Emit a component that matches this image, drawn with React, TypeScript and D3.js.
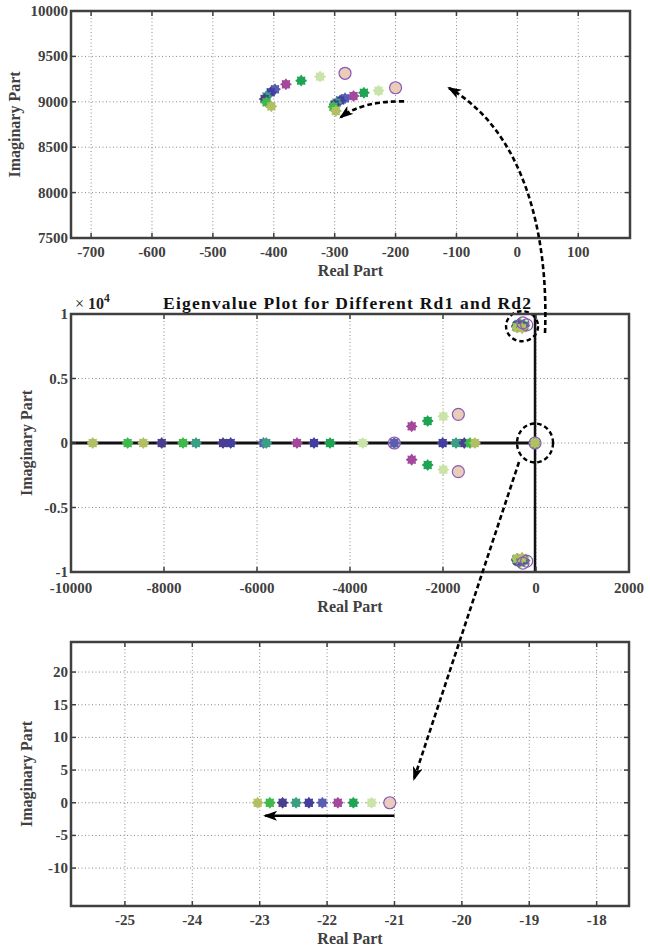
import React from 'react'
import * as d3 from 'd3'

// marker colours, one per Rd case (first case is drawn as a circle)
const caseColors = ['#e9cdb9', '#c9e3a9', '#1fa453', '#a4489d', '#5a5eb2', '#423f9e', '#3a9f84', '#4a3e8e', '#3dba4b', '#b2bf63']
const circleStroke = '#8a58b8'

// upper eigenvalue pair near 9000 rad/s (two branches)
const branchARe = [-283, -324, -355, -380, -398, -405, -412, -415, -412, -404]
const branchAIm = [9314, 9277, 9233, 9193, 9138, 9105, 9060, 9030, 8995, 8950]
const branchBRe = [-200, -228, -252, -269, -283, -291, -297, -300, -302, -298]
const branchBIm = [9155, 9122, 9100, 9064, 9039, 9015, 8990, 8970, 8945, 8899]

// real eigenvalues on the negative real axis
const realRe = [-9533, -8781, -8445, -8049, -7591, -7312, -6731, -6566, -5860, -5800, -5140, -4774, -4430, -3727, -3047, -3047, -2007, -1720, -1542, -1419, -1312]
const realCase = [9, 8, 9, 7, 8, 6, 7, 5, 4, 6, 3, 5, 2, 1, 0, 4, 5, 6, 7, 8, 9]

// complex pairs leaving the real axis
const pairRe = [-1670, -1993, -2329, -2673]
const pairIm = [2222, 2067, 1705, 1292]

// slow eigenvalue near the origin
const slowRe = [-21.07, -21.34, -21.61, -21.84, -22.07, -22.27, -22.46, -22.66, -22.85, -23.03]

const topXTicks = [-700, -600, -500, -400, -300, -200, -100, 0, 100]
const topYTicks = [7500, 8000, 8500, 9000, 9500, 10000]
const midXTicks = [-10000, -8000, -6000, -4000, -2000, 0, 2000]
const midYTicks = [-1, -0.5, 0, 0.5, 1]
const botXTicks = [-25, -24, -23, -22, -21, -20, -19, -18]
const botYTicks = [-10, -5, 0, 5, 10, 15, 20]

const axisColor = '#404040'
const font = '"Liberation Serif", "Times New Roman", serif'

const gearRadii = d3.range(16).map(i => (i % 2 === 0 ? 5.8 : 4.3))
const gearPath = d3.lineRadial<number>()
  .angle((d, i) => (i / 16) * 2 * Math.PI)
  .radius(d => d)
  .curve(d3.curveCardinalClosed)(gearRadii) as string

function Marker ({ x, y, c, hollow }: { x: number, y: number, c: number, hollow?: boolean }) {
  if (c === 0) {
    return <circle cx={x} cy={y} r={6} fill={hollow ? 'none' : caseColors[0]} stroke={circleStroke} strokeWidth={1.2} />
  }
  return <path d={gearPath} transform={`translate(${x},${y})`} fill={caseColors[c]} />
}

type Box = { left: number, right: number, top: number, bottom: number }

function Frame ({ box, x, y, xTicks, yTicks, yFmt, yTitleX, xLabelDy, children }: any) {
  const tick = 5
  return (
    <g>
      {xTicks.map((t: number) => (
        <line key={'gx' + t} x1={x(t)} x2={x(t)} y1={box.top} y2={box.bottom} stroke='#8a8a8a' strokeWidth={1} strokeDasharray='1,2.5' />
      ))}
      {yTicks.map((t: number) => (
        <line key={'gy' + t} x1={box.left} x2={box.right} y1={y(t)} y2={y(t)} stroke='#8a8a8a' strokeWidth={1} strokeDasharray='1,2.5' />
      ))}
      {children}
      <rect x={box.left} y={box.top} width={box.right - box.left} height={box.bottom - box.top} fill='none' stroke={axisColor} strokeWidth={2.5} />
      {xTicks.map((t: number) => (
        <g key={'tx' + t}>
          <line x1={x(t)} x2={x(t)} y1={box.bottom} y2={box.bottom - tick} stroke={axisColor} strokeWidth={1.5} />
          <line x1={x(t)} x2={x(t)} y1={box.top} y2={box.top + tick} stroke={axisColor} strokeWidth={1.5} />
          <text x={x(t)} y={box.bottom + xLabelDy} textAnchor='middle' fontFamily={font} fontWeight='bold' fontSize={15} fill={axisColor}>{t}</text>
        </g>
      ))}
      {yTicks.map((t: number) => (
        <g key={'ty' + t}>
          <line x1={box.left} x2={box.left + tick} y1={y(t)} y2={y(t)} stroke={axisColor} strokeWidth={1.5} />
          <line x1={box.right} x2={box.right - tick} y1={y(t)} y2={y(t)} stroke={axisColor} strokeWidth={1.5} />
          <text x={box.left - 3} y={y(t) + 5} textAnchor='end' fontFamily={font} fontWeight='bold' fontSize={15} fill={axisColor}>{yFmt(t)}</text>
        </g>
      ))}
      <text x={(box.left + box.right) / 2} y={box.bottom + xLabelDy + 19} textAnchor='middle' fontFamily={font} fontWeight='bold' fontSize={16} fill={axisColor}>Real Part</text>
      <text transform={`translate(${yTitleX},${(box.top + box.bottom) / 2}) rotate(-90)`} textAnchor='middle' fontFamily={font} fontWeight='bold' fontSize={16} fill={axisColor}>Imaginary Part</text>
    </g>
  )
}

export default function App () {
  const topBox: Box = { left: 71, right: 630, top: 11, bottom: 238 }
  const midBox: Box = { left: 71, right: 629, top: 314, bottom: 572 }
  const botBox: Box = { left: 71, right: 629, top: 642, bottom: 906 }

  const xT = d3.scaleLinear().domain([-733, 185]).range([topBox.left, topBox.right])
  const yT = d3.scaleLinear().domain([7500, 10000]).range([topBox.bottom, topBox.top])
  const xM = d3.scaleLinear().domain([-10000, 2000]).range([midBox.left, midBox.right])
  const yM = d3.scaleLinear().domain([-1e4, 1e4]).range([midBox.bottom, midBox.top])
  const xB = d3.scaleLinear().domain([-25.8, -17.52]).range([botBox.left, botBox.right])
  const yB = d3.scaleLinear().domain([-15.8, 24.6]).range([botBox.bottom, botBox.top])

  const idx = d3.range(caseColors.length)
  const stars = idx.slice(1)

  return (
    <svg width={650} height={949} style={{ position: 'absolute', left: 0, top: 0, background: '#fff' }}>
      <defs>
        <marker id='head' viewBox='0 0 14 10' refX={12} refY={5} markerWidth={14} markerHeight={10} markerUnits='userSpaceOnUse' orient='auto'>
          <path d='M0,0 L14,5 L0,10 L3.5,5 Z' fill='#000' />
        </marker>
      </defs>

      {/* zoom on the upper oscillatory pair */}
      <Frame box={topBox} x={xT} y={yT} xTicks={topXTicks} yTicks={topYTicks} yFmt={(t: number) => String(t)} yTitleX={20} xLabelDy={19}>
        {idx.map(i => <Marker key={'a' + i} x={xT(branchARe[i])} y={yT(branchAIm[i])} c={i} />)}
        {idx.map(i => <Marker key={'b' + i} x={xT(branchBRe[i])} y={yT(branchBIm[i])} c={i} />)}
        <path d={`M${xT(-186)},${yT(9005)} Q${xT(-255)},${yT(9010)} ${xT(-290)},${yT(8830)}`} fill='none' stroke='#000' strokeWidth={2.6} strokeDasharray='5,3' markerEnd='url(#head)' />
      </Frame>

      {/* full eigenvalue map */}
      <text x={347} y={309} textAnchor='middle' textLength={368} lengthAdjust='spacing' fontFamily={font} fontWeight='bold' fontSize={17.5} fill='#111'>Eigenvalue Plot for Different Rd1 and Rd2</text>
      <text x={75} y={309} fontFamily={font} fontSize={16} fill='#222'>× <tspan fontWeight='bold'>10</tspan><tspan dy={-7} fontSize={11.5} fontWeight='bold'>4</tspan></text>
      <Frame box={midBox} x={xM} y={yM} xTicks={midXTicks} yTicks={midYTicks.map(v => v * 1e4)} yFmt={(t: number) => String(t / 1e4)} yTitleX={32} xLabelDy={21}>
        <line x1={xM(-10000)} x2={xM(-21)} y1={yM(0)} y2={yM(0)} stroke='#111' strokeWidth={3} />
        <line x1={xM(-21)} x2={xM(-21)} y1={yM(-1e4)} y2={yM(1e4)} stroke='#111' strokeWidth={2.5} />
        {realRe.map((r, k) => <Marker key={'r' + k} x={xM(r)} y={yM(0)} c={realCase[k]} />)}
        {pairRe.map((r, k) => <Marker key={'p' + k} x={xM(r)} y={yM(pairIm[k])} c={k} />)}
        {pairRe.map((r, k) => <Marker key={'q' + k} x={xM(r)} y={yM(-pairIm[k])} c={k} />)}
        {[1, -1].map(sg => (
          <g key={'cl' + sg}>
            {stars.map(i => <Marker key={'ca' + i} x={xM(branchARe[i])} y={yM(sg * branchAIm[i])} c={i} />)}
            {stars.map(i => <Marker key={'cb' + i} x={xM(branchBRe[i])} y={yM(sg * branchBIm[i])} c={i} />)}
            <Marker x={xM(branchARe[0])} y={yM(sg * branchAIm[0])} c={0} hollow />
            <Marker x={xM(branchBRe[0])} y={yM(sg * branchBIm[0])} c={0} hollow />
          </g>
        ))}
        {idx.map(i => <Marker key={'s' + i} x={xM(slowRe[i])} y={yM(0)} c={i} />)}
        <ellipse cx={xM(-300)} cy={yM(9050)} rx={16} ry={15} fill='none' stroke='#000' strokeWidth={2.4} strokeDasharray='4.5,3' />
        <ellipse cx={xM(-21)} cy={yM(0)} rx={18} ry={19.5} fill='none' stroke='#000' strokeWidth={2.4} strokeDasharray='4.5,3' />
      </Frame>

      {/* zoom on the slow real eigenvalue */}
      <Frame box={botBox} x={xB} y={yB} xTicks={botXTicks} yTicks={botYTicks} yFmt={(t: number) => String(t)} yTitleX={32} xLabelDy={19}>
        {idx.map(i => <Marker key={'z' + i} x={xB(slowRe[i])} y={yB(0)} c={i} />)}
        <line x1={xB(-21)} x2={xB(-22.92)} y1={yB(-2)} y2={yB(-2)} stroke='#000' strokeWidth={2.6} markerEnd='url(#head)' />
      </Frame>

      {/* links between panels */}
      <path d='M545,333 C549,230 522,130 449,88' fill='none' stroke='#000' strokeWidth={2.6} strokeDasharray='5,3' markerEnd='url(#head)' />
      <path d='M519,462 L414,779' fill='none' stroke='#000' strokeWidth={2.6} strokeDasharray='5,3' markerEnd='url(#head)' />
    </svg>
  )
}
